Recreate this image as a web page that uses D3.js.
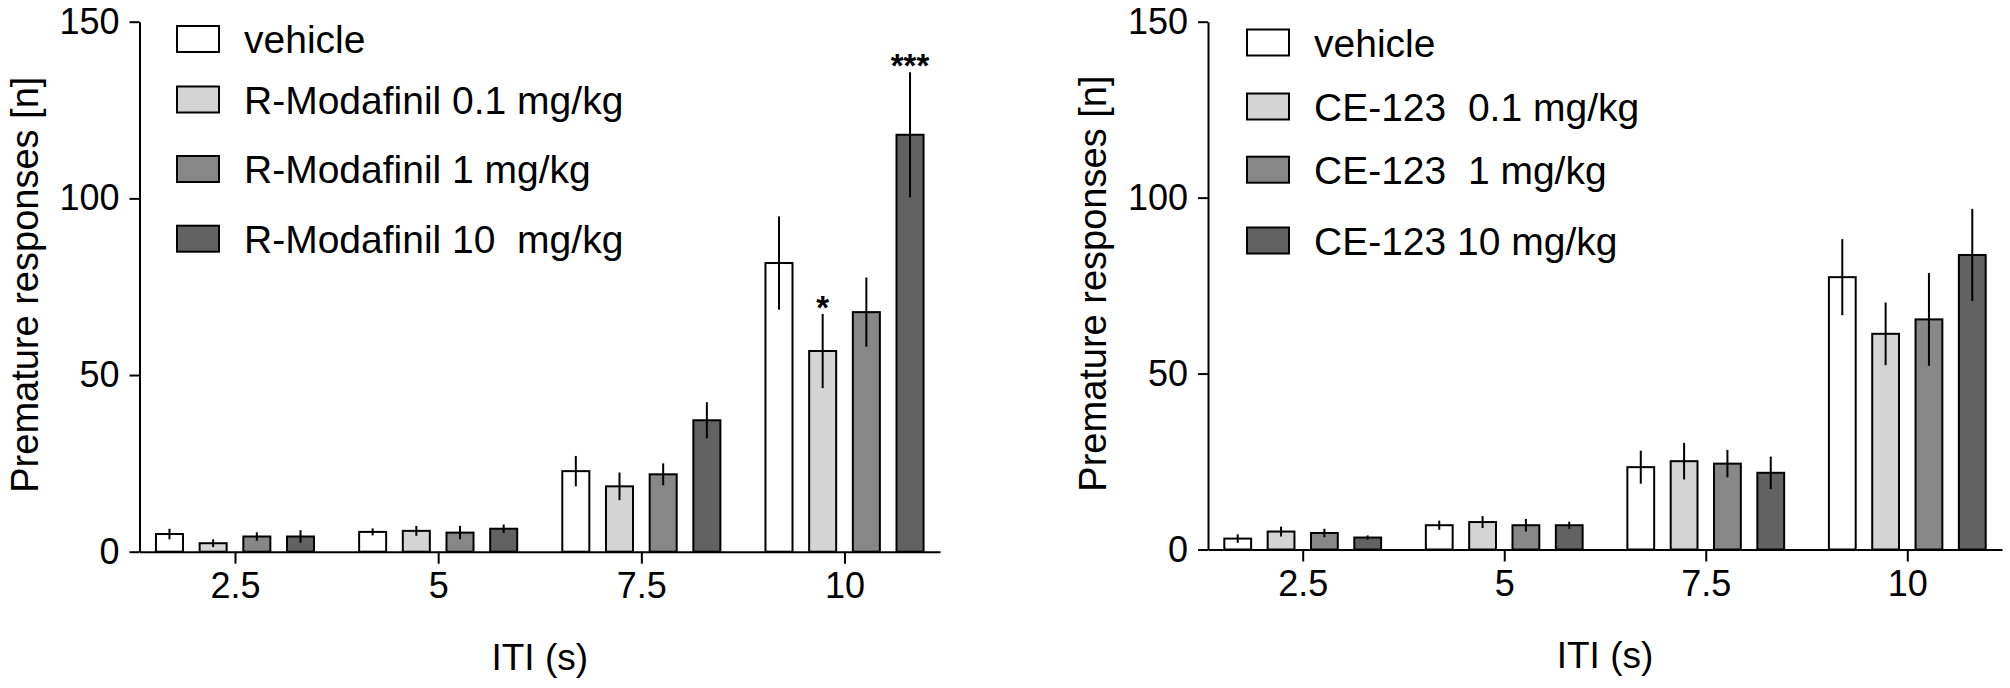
<!DOCTYPE html>
<html>
<head>
<meta charset="utf-8">
<script src="https://cdnjs.cloudflare.com/ajax/libs/d3/7.8.5/d3.min.js"></script>
<style>
  body { margin: 0; background: #fff; }
  svg text { font-family: "Liberation Sans", Arial, sans-serif; fill: #000; }
</style>
</head>
<body>
<div id="chart"></div>
<script>
// ITI categories (x axis)
var itiLabels = ["2.5", "5", "7.5", "10"];
var yTicks = [0, 50, 100, 150];
var seriesColors = ["#ffffff", "#d4d4d4", "#878787", "#626262"];

// left panel : R-Modafinil
var modafinilNames = ["vehicle", "R-Modafinil 0.1 mg/kg", "R-Modafinil 1 mg/kg", "R-Modafinil 10  mg/kg"];
var modafinilMeans = [
  [5.0, 5.6, 22.8, 81.7],
  [2.4, 5.9, 18.5, 56.8],
  [4.3, 5.4, 21.9, 67.8],
  [4.3, 6.5, 37.2, 118.0]
];
var modafinilSems = [
  [1.5, 1.0, 4.3, 13.2],
  [1.1, 1.4, 3.9, 10.5],
  [1.2, 1.9, 3.1, 9.8],
  [1.8, 1.2, 5.1, 17.7]
];
// [group, series, label]
var modafinilSig = [["10", 1, "*"], ["10", 3, "***"]];

// right panel : CE-123
var ceNames = ["vehicle", "CE-123  0.1 mg/kg", "CE-123  1 mg/kg", "CE-123 10 mg/kg"];
var ceMeans = [
  [3.1, 6.9, 23.4, 77.4],
  [5.1, 7.8, 25.1, 61.3],
  [4.7, 6.9, 24.4, 65.4],
  [3.4, 6.9, 21.8, 83.7]
];
var ceSems = [
  [1.2, 1.3, 4.7, 10.8],
  [1.4, 1.7, 5.2, 8.9],
  [1.2, 1.8, 3.9, 13.2],
  [0.6, 1.0, 4.6, 13.1]
];
var ceSig = [];

var panels = [
  {names: modafinilNames, means: modafinilMeans, sems: modafinilSems, sig: modafinilSig,
   x0: 139.5, x1: 940, yTop: 21.7, yBase: 551.7, legendX: 177, legendRows: [39, 99.5, 169, 238.7]},
  {names: ceNames, means: ceMeans, sems: ceSems, sig: ceSig,
   x0: 1208, x1: 2002, yTop: 21.7, yBase: 549.5, legendX: 1247, legendRows: [42.5, 106.5, 169.7, 240.5]}
];

var svg = d3.select("#chart")
  .append("svg")
  .attr("width", 2010)
  .attr("height", 688);

panels.forEach(drawPanel);

function drawPanel(p) {
  var x = d3.scalePoint()
    .domain(itiLabels)
    .range([p.x0, p.x1])
    .padding(0.47);
  var step = x.step();
  var barGap = step * 0.215;
  var barW = step * 0.133;

  var y = d3.scaleLinear()
    .domain([0, 150])
    .range([p.yBase, p.yTop]);

  var g = svg.append("g");

  // bars
  p.means.forEach(function (vals, s) {
    g.selectAll(null)
      .data(vals)
      .enter()
      .append("rect")
      .attr("x", function (d, i) { return x(itiLabels[i]) + (s - 1.5) * barGap - barW / 2; })
      .attr("y", function (d) { return y(d); })
      .attr("width", barW)
      .attr("height", function (d) { return y(0) - y(d); })
      .attr("fill", seriesColors[s])
      .attr("stroke", "#000")
      .attr("stroke-width", 2);
  });

  // error bars (SEM)
  p.means.forEach(function (vals, s) {
    g.selectAll(null)
      .data(vals)
      .enter()
      .append("line")
      .attr("x1", function (d, i) { return x(itiLabels[i]) + (s - 1.5) * barGap; })
      .attr("x2", function (d, i) { return x(itiLabels[i]) + (s - 1.5) * barGap; })
      .attr("y1", function (d, i) { return y(d - p.sems[s][i]); })
      .attr("y2", function (d, i) { return y(d + p.sems[s][i]); })
      .attr("stroke", "#000")
      .attr("stroke-width", 2);
  });

  // significance stars
  g.selectAll(null)
    .data(p.sig)
    .enter()
    .append("text")
    .attr("x", function (d) { return x(d[0]) + (d[1] - 1.5) * barGap; })
    .attr("y", function (d) {
      var i = itiLabels.indexOf(d[0]);
      return y(p.means[d[1]][i] + p.sems[d[1]][i]) + 5;
    })
    .attr("text-anchor", "middle")
    .attr("font-size", "33px")
    .attr("font-weight", "bold")
    .text(function (d) { return d[2]; });

  // axes
  var yAxis = g.append("g")
    .attr("transform", "translate(" + p.x0 + ",0)")
    .call(d3.axisLeft(y).tickValues(yTicks).tickSize(10).tickSizeOuter(0).tickPadding(10));
  var xAxis = g.append("g")
    .attr("transform", "translate(0," + y(0) + ")")
    .call(d3.axisBottom(x).tickSize(12).tickSizeOuter(0).tickPadding(9));

  [yAxis, xAxis].forEach(function (a) {
    a.selectAll("path, line").attr("stroke", "#000").attr("stroke-width", 2);
    a.selectAll("text").attr("font-size", "36px").attr("fill", "#000")
      .attr("font-family", "Liberation Sans, Arial, sans-serif");
  });

  // axis titles
  g.append("text")
    .attr("transform", "translate(" + (p.x0 - 102) + "," + ((p.yTop + p.yBase) / 2 - 2) + ") rotate(-90)")
    .attr("text-anchor", "middle")
    .attr("font-size", "38px")
    .text("Premature responses [n]");

  g.append("text")
    .attr("x", (p.x0 + p.x1) / 2)
    .attr("y", p.yBase + 118)
    .attr("text-anchor", "middle")
    .attr("font-size", "37px")
    .text("ITI (s)");

  // legend
  var leg = g.selectAll(".legend")
    .data(p.names)
    .enter()
    .append("g")
    .attr("class", "legend")
    .attr("transform", function (d, i) { return "translate(" + p.legendX + "," + p.legendRows[i] + ")"; });

  leg.append("rect")
    .attr("x", 0)
    .attr("y", -13)
    .attr("width", 42)
    .attr("height", 26)
    .attr("fill", function (d, i) { return seriesColors[i]; })
    .attr("stroke", "#000")
    .attr("stroke-width", 2);

  leg.append("text")
    .attr("x", 67)
    .attr("y", 14)
    .attr("font-size", "39px")
    .style("white-space", "pre")
    .text(function (d) { return d; });
}
</script>
</body>
</html>
